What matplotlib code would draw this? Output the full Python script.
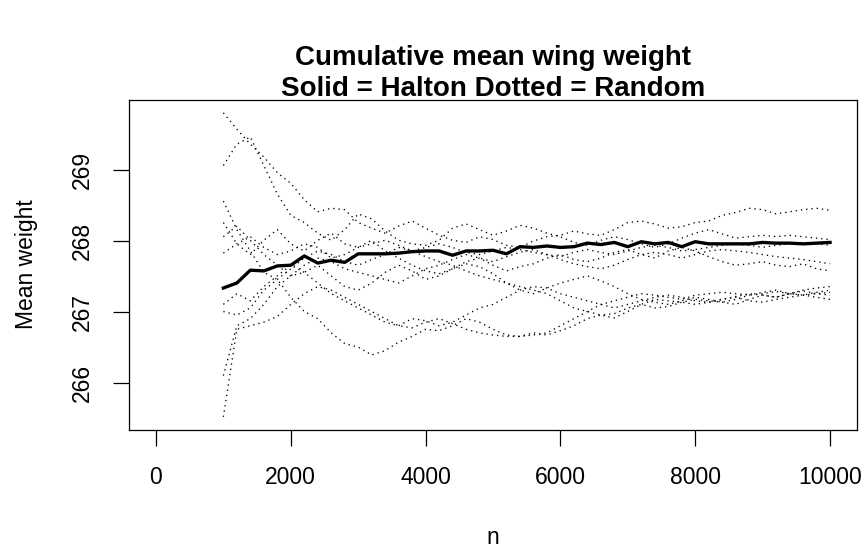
import matplotlib
matplotlib.use("Agg")
import matplotlib.pyplot as plt

plt.rcParams['font.family'] = ['Liberation Sans', 'DejaVu Sans']

n_values = list(range(1000, 10001, 200))

halton_mean = [267.34, 267.41, 267.59, 267.58, 267.65, 267.66, 267.79, 267.69, 267.73, 267.70,
               267.82, 267.82, 267.82, 267.83, 267.85, 267.86, 267.86, 267.80, 267.86, 267.86,
               267.87, 267.82, 267.92, 267.91, 267.93, 267.91, 267.92, 267.97, 267.95, 267.98,
               267.92, 267.99, 267.96, 267.98, 267.92, 267.99, 267.96, 267.96, 267.96, 267.96,
               267.98, 267.97, 267.97, 267.96, 267.97, 267.98]

random_1 = [269.80, 269.57, 269.36, 269.18, 268.96, 268.81, 268.58, 268.41, 268.46, 268.44,
            268.26, 268.18, 268.11, 268.21, 268.28, 268.18, 268.08, 268.01, 267.98, 268.06,
            268.02, 267.94, 267.91, 268.00, 268.06, 268.08, 268.14, 268.10, 268.08, 268.16,
            268.26, 268.28, 268.24, 268.18, 268.20, 268.26, 268.28, 268.36, 268.40, 268.46,
            268.44, 268.38, 268.41, 268.44, 268.46, 268.43]
random_2 = [269.06, 269.36, 269.46, 269.06, 268.66, 268.36, 268.26, 268.11, 268.01, 268.16,
            268.38, 268.31, 268.14, 268.01, 267.96, 267.94, 268.01, 268.18, 268.24, 268.16,
            268.08, 268.14, 268.22, 268.18, 268.11, 268.06, 267.98, 267.94, 268.01, 268.06,
            268.02, 267.96, 267.91, 267.96, 268.04, 268.11, 268.16, 268.10, 268.04, 268.06,
            268.08, 268.06, 268.08, 268.06, 268.04, 268.02]
random_3 = [268.56, 268.16, 267.86, 267.56, 267.46, 267.21, 267.01, 266.91, 266.71, 266.56,
            266.51, 266.40, 266.46, 266.58, 266.66, 266.76, 266.74, 266.81, 266.91, 266.86,
            266.76, 266.68, 266.66, 266.71, 266.68, 266.74, 266.81, 266.91, 266.96, 266.98,
            267.06, 267.11, 267.06, 267.08, 267.14, 267.18, 267.16, 267.14, 267.11, 267.18,
            267.24, 267.21, 267.26, 267.30, 267.26, 267.24]
random_4 = [268.26, 267.96, 267.81, 268.01, 268.16, 267.96, 267.86, 268.01, 268.11, 267.96,
            267.91, 268.01, 267.86, 267.76, 267.66, 267.58, 267.54, 267.61, 267.71, 267.76,
            267.66, 267.58, 267.64, 267.68, 267.76, 267.81, 267.74, 267.71, 267.76, 267.84,
            267.88, 267.81, 267.76, 267.86, 267.91, 267.86, 267.78, 267.71, 267.66, 267.68,
            267.71, 267.66, 267.64, 267.68, 267.61, 267.58]
random_5 = [267.83, 267.96, 268.06, 267.91, 267.81, 267.86, 267.96, 267.91, 267.76, 267.81,
            267.91, 267.96, 268.01, 267.94, 267.86, 267.91, 267.96, 267.91, 267.84, 267.81,
            267.86, 267.91, 267.88, 267.84, 267.81, 267.78, 267.84, 267.88, 267.84, 267.81,
            267.86, 267.91, 267.94, 267.91, 267.86, 267.88, 267.91, 267.94, 267.96, 267.94,
            267.91, 267.94, 267.96, 267.98, 267.96, 267.94]
random_6 = [268.06, 268.21, 268.01, 267.81, 267.66, 267.51, 267.56, 267.66, 267.51, 267.36,
            267.31, 267.41, 267.56, 267.66, 267.58, 267.46, 267.51, 267.61, 267.68, 267.64,
            267.54, 267.41, 267.31, 267.26, 267.34, 267.41, 267.46, 267.51, 267.44, 267.36,
            267.26, 267.18, 267.14, 267.11, 267.16, 267.21, 267.18, 267.14, 267.18, 267.24,
            267.28, 267.31, 267.26, 267.24, 267.28, 267.31]
random_7 = [267.11, 267.26, 267.16, 267.36, 267.51, 267.66, 267.56, 267.41, 267.26, 267.16,
            267.06, 266.96, 266.86, 266.81, 266.91, 266.88, 266.81, 266.86, 266.96, 267.06,
            267.11, 267.21, 267.31, 267.36, 267.34, 267.26, 267.21, 267.16, 267.11, 267.06,
            267.11, 267.16, 267.21, 267.24, 267.21, 267.16, 267.14, 267.18, 267.22, 267.26,
            267.24, 267.21, 267.26, 267.31, 267.34, 267.36]
random_8 = [267.01, 266.96, 267.06, 267.31, 267.46, 267.61, 267.76, 267.86, 267.81, 267.71,
            267.66, 267.74, 267.81, 267.91, 267.86, 267.78, 267.71, 267.66, 267.58, 267.51,
            267.46, 267.41, 267.36, 267.31, 267.26, 267.16, 267.06, 267.01, 266.96, 266.92,
            267.01, 267.11, 267.18, 267.16, 267.14, 267.11, 267.14, 267.18, 267.21, 267.16,
            267.14, 267.18, 267.21, 267.24, 267.21, 267.18]
random_9 = [266.11, 266.81, 266.91, 267.11, 267.36, 267.51, 267.66, 267.76, 267.71, 267.61,
            267.56, 267.51, 267.46, 267.41, 267.51, 267.61, 267.66, 267.74, 267.81, 267.76,
            267.71, 267.78, 267.84, 267.88, 267.81, 267.74, 267.68, 267.64, 267.61, 267.66,
            267.74, 267.81, 267.84, 267.81, 267.76, 267.81, 267.86, 267.88, 267.86, 267.84,
            267.81, 267.78, 267.76, 267.74, 267.71, 267.68]
random_10 = [265.53, 266.76, 266.81, 266.86, 266.94, 267.11, 267.26, 267.36, 267.31, 267.21,
             267.11, 267.01, 266.91, 266.81, 266.78, 266.86, 266.91, 266.84, 266.76, 266.71,
             266.68, 266.66, 266.66, 266.68, 266.71, 266.81, 266.91, 267.01, 267.11, 267.16,
             267.21, 267.26, 267.24, 267.21, 267.18, 267.24, 267.26, 267.28, 267.26, 267.24,
             267.26, 267.29, 267.26, 267.24, 267.26, 267.28]

random_series = [random_1, random_2, random_3, random_4, random_5,
                 random_6, random_7, random_8, random_9, random_10]

x_ticks = [0, 2000, 4000, 6000, 8000, 10000]
y_ticks = [266, 267, 268, 269]

W, H = 867, 550
fig = plt.figure(figsize=(W / 100, H / 100), dpi=100)
left, right, top, bottom = 129, 857, 99.5, 429.5
ax = fig.add_axes([left / W, 1 - bottom / H, (right - left) / W, (bottom - top) / H])

for s in random_series:
    ax.plot(n_values, s, color='black', linewidth=0.95, linestyle=(0, (1, 3.0)))
ax.plot(n_values, halton_mean, color='black', linewidth=2.4, solid_joinstyle='round')

ax.set_xlim(-400, 10400)
ax.set_ylim(265.353, 269.987)
ax.set_xticks(x_ticks)
ax.set_xticklabels([str(v) for v in x_ticks])
ax.set_yticks(y_ticks)
ax.set_yticklabels([str(v) for v in y_ticks], rotation=90, va='center')
ax.tick_params(axis='both', length=11.5, width=0.9, labelsize=16.5, direction='out')
ax.tick_params(axis='x', pad=15)
ax.tick_params(axis='y', pad=14)
for sp in ax.spines.values():
    sp.set_linewidth(0.9)

fig.text(493 / W, 1 - 58 / H, 'Cumulative mean wing weight', ha='center', va='center',
         fontsize=20, fontweight='bold')
fig.text(493 / W, 1 - 89 / H, 'Solid = Halton Dotted = Random', ha='center', va='center',
         fontsize=20, fontweight='bold')
fig.text(493 / W, 1 - 537 / H, 'n', ha='center', va='center', fontsize=16.5)
fig.text(27 / W, 1 - 264.5 / H, 'Mean weight', ha='center', va='center', rotation=90, fontsize=16.5)

fig.savefig('out.png', dpi=100)
